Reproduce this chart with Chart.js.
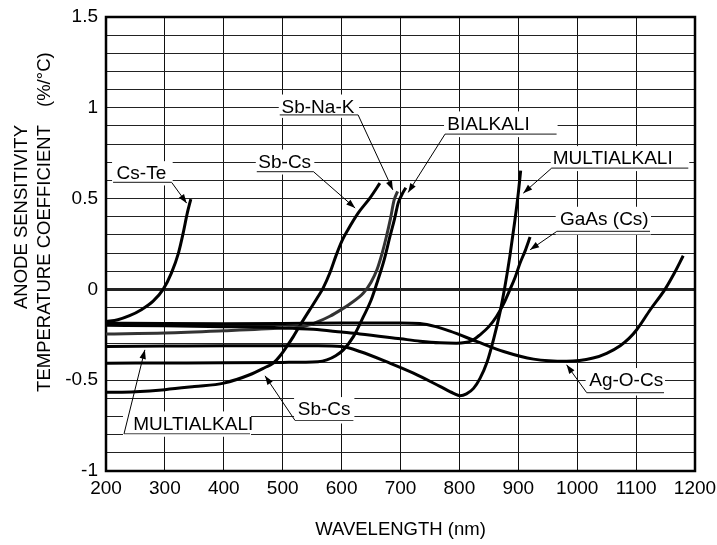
<!DOCTYPE html>
<html>
<head>
<meta charset="utf-8">
<script src="https://cdn.jsdelivr.net/npm/chart.js@4/dist/chart.umd.min.js"></script>
<style>
html,body{margin:0;padding:0;background:#fff;}
#wrap{width:717px;height:545px;position:relative;}
</style>
</head>
<body>
<div id="wrap"><canvas id="c" width="717" height="545"></canvas></div>
<script>
// ---- Data (wavelength in nm, anode sensitivity temperature coefficient in %/°C) ----
const wavelengthTicks = [200, 300, 400, 500, 600, 700, 800, 900, 1000, 1100, 1200];
const coefficientTicks = [-1, -0.5, 0, 0.5, 1, 1.5];

const csTeNm  = [200, 220, 240, 260, 280, 297, 311, 323, 331, 338, 344];
const csTeVal = [-0.177, -0.167, -0.145, -0.112, -0.065, 0.0, 0.09, 0.2, 0.31, 0.42, 0.497];

const agOCsNm  = [200, 300, 400, 500, 600, 700, 733, 760, 784, 829, 875, 926, 982, 1027, 1050, 1073, 1088, 1101, 1124, 1149, 1165, 1180];
const agOCsVal = [-0.186, -0.188, -0.189, -0.188, -0.185, -0.185, -0.188, -0.205, -0.23, -0.286, -0.342, -0.384, -0.396, -0.378, -0.352, -0.31, -0.27, -0.222, -0.112, 0.0, 0.09, 0.185];

const gaAsNm  = [200, 300, 400, 500, 552, 600, 631, 700, 733, 767, 795, 820, 835, 850, 863, 875, 886, 895, 903, 912, 920];
const gaAsVal = [-0.198, -0.2, -0.205, -0.212, -0.22, -0.235, -0.245, -0.272, -0.285, -0.294, -0.296, -0.284, -0.25, -0.205, -0.149, -0.08, 0.0, 0.07, 0.145, 0.215, 0.288];

const sbNaKNm  = [200, 300, 400, 500, 535, 546, 560, 580, 600, 614, 637, 650, 660, 668, 676, 683, 689, 695];
const sbNaKVal = [-0.245, -0.24, -0.228, -0.213, -0.205, -0.195, -0.178, -0.148, -0.11, -0.08, -0.02, 0.04, 0.108, 0.19, 0.29, 0.39, 0.49, 0.54];

const bialkaliNm  = [200, 300, 400, 500, 560, 575, 590, 603, 620, 637, 650, 660, 672, 682, 690, 696, 702, 709];
const bialkaliVal = [-0.406, -0.405, -0.404, -0.402, -0.398, -0.388, -0.365, -0.333, -0.26, -0.15, -0.06, 0.035, 0.16, 0.29, 0.39, 0.475, 0.52, 0.56];

const sbCsNm  = [200, 250, 300, 350, 400, 444, 470, 484, 497, 507, 518, 529, 545, 558, 569, 580, 591, 601, 611, 628, 648, 665];
const sbCsVal = [-0.567, -0.563, -0.552, -0.535, -0.516, -0.47, -0.43, -0.406, -0.36, -0.314, -0.26, -0.2, -0.117, -0.05, 0.01, 0.09, 0.19, 0.27, 0.33, 0.42, 0.503, 0.585];

const multiNm  = [200, 300, 400, 500, 560, 600, 631, 682, 722, 767, 790, 801, 812, 824, 835, 847, 858, 869, 877, 886, 894, 900, 904];
const multiVal = [-0.314, -0.312, -0.31, -0.31, -0.31, -0.315, -0.342, -0.406, -0.461, -0.534, -0.572, -0.585, -0.575, -0.545, -0.49, -0.4, -0.275, -0.125, 0.01, 0.19, 0.375, 0.53, 0.654];

// Callout labels, anchored in data coordinates (nm, %/°C)
const calloutTexts = ['Cs-Te', 'Sb-Na-K', 'Sb-Cs', 'BIALKALI', 'MULTIALKALI', 'GaAs (Cs)', 'Ag-O-Cs', 'Sb-Cs', 'MULTIALKALI'];
const callouts = [
  {tx: 218, ty: 0.640, ux1: 212, ux2: 311.5, uy: 0.589, from: 'right', px: 337, py: 0.475},
  {tx: 498, ty: 1.007, ux1: 495, ux2: 628, uy: 0.961, from: 'right', px: 687, py: 0.548},
  {tx: 458.6, ty: 0.704, ux1: 456, ux2: 552, uy: 0.649, from: 'right', px: 623, py: 0.448},
  {tx: 779.5, ty: 0.914, ux1: 775.6, ux2: 965, uy: 0.855, from: 'left', px: 713, py: 0.534},
  {tx: 958.4, ty: 0.723, ux1: 956.7, ux2: 1188.6, uy: 0.668, from: 'left', px: 908.5, py: 0.530},
  {tx: 970.8, ty: 0.389, ux1: 965.2, ux2: 1123.6, uy: 0.319, from: 'left', px: 920, py: 0.218},
  {tx: 1020.5, ty: -0.499, ux1: 1016, ux2: 1147.4, uy: -0.568, from: 'left', px: 982, py: -0.415},
  {tx: 525.5, ty: -0.659, ux1: 521, ux2: 620, uy: -0.722, from: 'left', px: 470, py: -0.476},
  {tx: 246.3, ty: -0.738, ux1: 230.6, ux2: 444.5, uy: -0.795, from: 'left', px: 266, py: -0.333}
];

function series(nm, val) { return nm.map((x, i) => ({x: x, y: val[i]})); }

const FONT = '"Liberation Sans", Arial, Helvetica, sans-serif';

function ds(label, nm, val, color) {
  return {
    label: label,
    data: series(nm, val),
    borderColor: color,
    borderWidth: 3,
    pointRadius: 0,
    fill: false,
    cubicInterpolationMode: 'monotone',
    borderCapStyle: 'butt'
  };
}

const calloutPlugin = {
  id: 'callouts',
  beforeDatasetsDraw(chart) {
    const ctx = chart.ctx, xs = chart.scales.x, ys = chart.scales.y;
    ctx.save();
    ctx.fillStyle = '#ffffff';
    callouts.forEach((a) => {
      const X1 = xs.getPixelForValue(a.ux1), X2 = xs.getPixelForValue(a.ux2);
      const TY = ys.getPixelForValue(a.ty), UY = ys.getPixelForValue(a.uy);
      ctx.fillRect(X1 - 1, TY - 12, X2 - X1 + 2, UY - TY + 15);
    });
    const ca = chart.chartArea;
    ctx.strokeStyle = '#000';
    ctx.lineWidth = 2.5;
    ctx.strokeRect(ca.left, ca.top, ca.right - ca.left, ca.bottom - ca.top);
    ctx.restore();
  },
  afterDatasetsDraw(chart) {
    const ctx = chart.ctx, xs = chart.scales.x, ys = chart.scales.y;
    ctx.save();
    ctx.font = '19px ' + FONT;
    ctx.textBaseline = 'middle';
    ctx.textAlign = 'left';
    callouts.forEach((a, i) => {
      const TX = xs.getPixelForValue(a.tx), TY = ys.getPixelForValue(a.ty);
      const X1 = xs.getPixelForValue(a.ux1), X2 = xs.getPixelForValue(a.ux2);
      const UY = ys.getPixelForValue(a.uy);
      const PX = xs.getPixelForValue(a.px), PY = ys.getPixelForValue(a.py);
      ctx.fillStyle = '#000';
      ctx.fillText(calloutTexts[i], TX, TY + 1);
      ctx.strokeStyle = '#444';
      ctx.lineWidth = 1.2;
      ctx.beginPath();
      ctx.moveTo(X1, UY); ctx.lineTo(X2, UY);
      ctx.stroke();
      const SX = a.from === 'left' ? X1 : X2;
      ctx.strokeStyle = '#000';
      ctx.lineWidth = 1;
      ctx.beginPath();
      ctx.moveTo(SX, UY); ctx.lineTo(PX, PY);
      ctx.stroke();
      const ang = Math.atan2(PY - UY, PX - SX);
      const L = 9, W = 3.2;
      ctx.beginPath();
      ctx.moveTo(PX, PY);
      ctx.lineTo(PX - L * Math.cos(ang) + W * Math.sin(ang), PY - L * Math.sin(ang) - W * Math.cos(ang));
      ctx.lineTo(PX - L * Math.cos(ang) - W * Math.sin(ang), PY - L * Math.sin(ang) + W * Math.cos(ang));
      ctx.closePath();
      ctx.fillStyle = '#000';
      ctx.fill();
    });
    ctx.restore();
  },
  afterDraw(chart) {
    const ctx = chart.ctx, ca = chart.chartArea;
    ctx.save();
    ctx.fillStyle = '#000';
    ctx.font = '18.5px ' + FONT;
    ctx.textBaseline = 'middle';
    ctx.textAlign = 'center';
    ctx.fillText('WAVELENGTH (nm)', (ca.left + ca.right) / 2, 530);
    ctx.save();
    ctx.translate(22, 125);
    ctx.rotate(-Math.PI / 2);
    ctx.textAlign = 'right';
    ctx.fillText('ANODE SENSITIVITY', 0, 0);
    ctx.restore();
    ctx.save();
    ctx.translate(45, 125);
    ctx.rotate(-Math.PI / 2);
    ctx.textAlign = 'right';
    ctx.fillText('TEMPERATURE COEFFICIENT', 0, 0);
    ctx.restore();
    ctx.save();
    ctx.translate(45, 107);
    ctx.rotate(-Math.PI / 2);
    ctx.textAlign = 'left';
    ctx.fillText('(%/\u00B0C)', 0, 0);
    ctx.restore();
    ctx.restore();
  }
};

new Chart(document.getElementById('c'), {
  type: 'line',
  data: {
    datasets: [
      ds('Cs-Te', csTeNm, csTeVal, '#000'),
      ds('Ag-O-Cs', agOCsNm, agOCsVal, '#000'),
      ds('GaAs (Cs)', gaAsNm, gaAsVal, '#000'),
      ds('Sb-Na-K', sbNaKNm, sbNaKVal, '#333'),
      ds('BIALKALI', bialkaliNm, bialkaliVal, '#000'),
      ds('Sb-Cs', sbCsNm, sbCsVal, '#000'),
      ds('MULTIALKALI', multiNm, multiVal, '#000')
    ]
  },
  options: {
    responsive: false,
    animation: false,
    devicePixelRatio: 1,
    layout: {padding: {left: 0, top: 17, right: 22, bottom: 0}},
    plugins: {legend: {display: false}, tooltip: {enabled: false}, title: {display: false}},
    scales: {
      x: {
        type: 'linear',
        min: wavelengthTicks[0],
        max: wavelengthTicks[wavelengthTicks.length - 1],
        afterFit: (s) => { s.height = 74; s.paddingLeft = 0; s.paddingRight = 0; },
        afterBuildTicks: (s) => { s.ticks = wavelengthTicks.map(v => ({value: v})); },
        ticks: {
          autoSkip: false,
          maxRotation: 0,
          padding: 6,
          color: '#000',
          font: {family: FONT, size: 19},
          callback: (v) => String(v)
        },
        grid: {color: '#111', lineWidth: 1, drawTicks: false},
        border: {display: false}
      },
      y: {
        type: 'linear',
        min: coefficientTicks[0],
        max: coefficientTicks[coefficientTicks.length - 1],
        afterFit: (s) => { s.width = 106; s.paddingTop = 0; s.paddingBottom = 0; },
        ticks: {
          stepSize: 0.1,
          autoSkip: false,
          padding: 8,
          color: '#000',
          font: {family: FONT, size: 19},
          callback: (v) => {
            const r = Math.round(v * 10) / 10;
            const hit = coefficientTicks.find(t => Math.abs(t - r) < 1e-6);
            return hit === undefined ? '' : String(hit);
          }
        },
        grid: {
          color: '#222',
          lineWidth: (c) => (Math.abs(c.tick.value) < 1e-6 ? 3 : 1),
          drawTicks: false
        },
        border: {display: false}
      }
    }
  },
  plugins: [calloutPlugin]
});
</script>
</body>
</html>
